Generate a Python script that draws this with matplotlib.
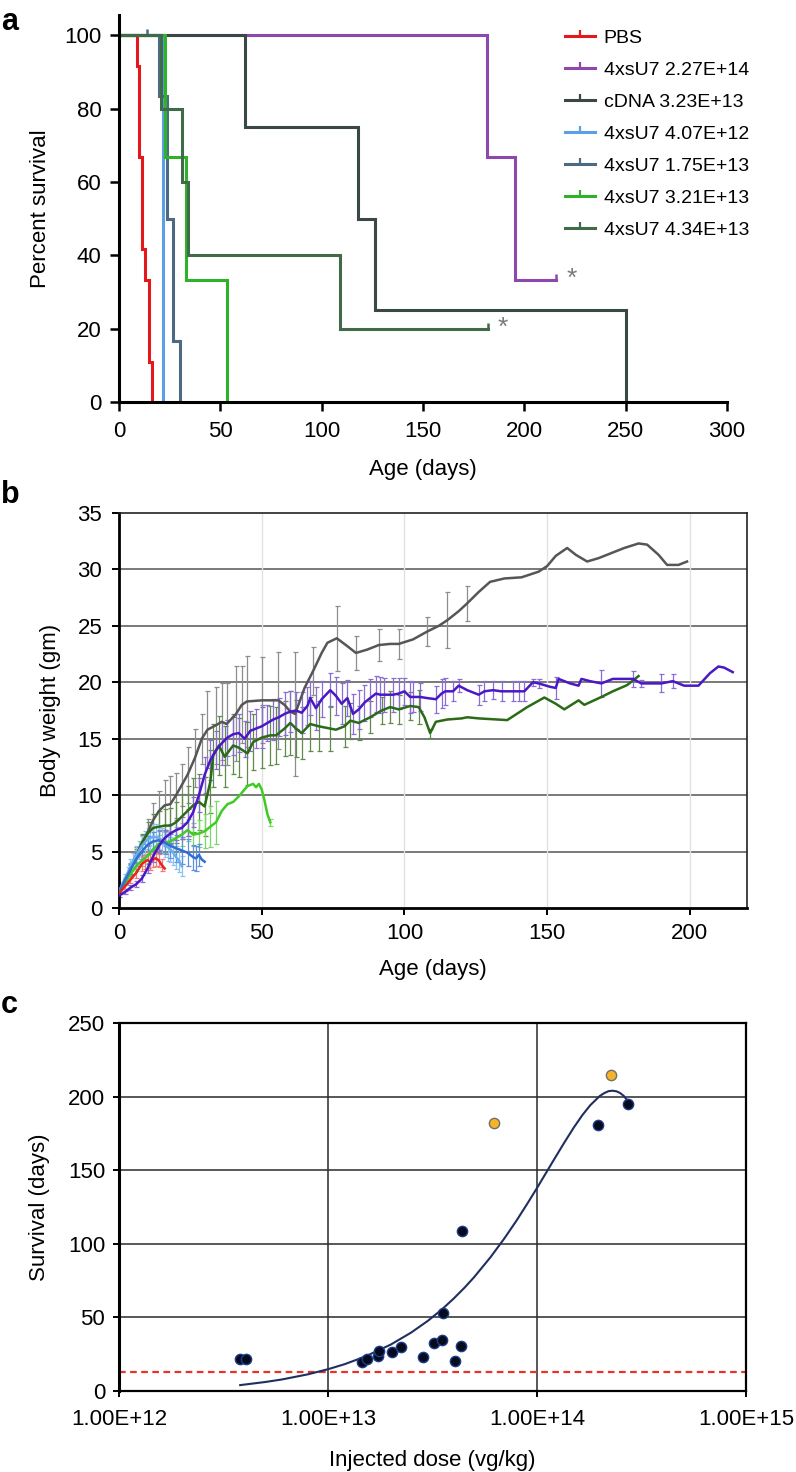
import numpy as np
import matplotlib
matplotlib.use("Agg")
import matplotlib.pyplot as plt
from matplotlib.path import Path
from matplotlib.lines import Line2D
from matplotlib.ticker import NullLocator

plt.rcParams['font.family'] = ['Liberation Sans', 'DejaVu Sans']

# ---------------- panel a : survival curves ----------------
km_labels = ['PBS', '4xsU7 2.27E+14', 'cDNA 3.23E+13', '4xsU7 4.07E+12',
             '4xsU7 1.75E+13', '4xsU7 3.21E+13', '4xsU7 4.34E+13']
km_colors = ['#e3171c', '#8e47ad', '#3a4747', '#5b9fe6', '#4d6a85', '#2eb22a', '#3f6b48']
km_times = [
    [0, 9, 9.7, 11.5, 12.6, 14.8, 16.1],
    [0, 181.5, 195.4, 215.4],
    [0, 62.2, 118, 126.3, 250.4],
    [0, 21.9],
    [0, 19.7, 23.5, 26.8, 30.1],
    [0, 22.7, 33, 53.1],
    [0, 20.7, 30.9, 33.8, 109, 182],
]
km_surv = [
    [100, 91.7, 66.7, 41.7, 33.3, 11, 0],
    [100, 66.7, 33.3, 33.3],
    [100, 75, 50, 25, 0],
    [100, 0],
    [100, 83.3, 50, 16.7, 0],
    [100, 66.7, 33.3, 0],
    [100, 80, 60, 40, 20, 20],
]
km_censor = [[], [(215.4, 33.3)], [], [], [(14, 100)], [], [(182, 20)]]
km_stars = [(223.5, 33.5), (189.5, 20.2)]

# ---------------- panel b : body weight (day, mean, sd) ----------------
bw_red = np.array([
    [0, 1.3, 0.1], [2, 1.9, 0.2], [4, 2.5, 0.3], [6, 3.1, 0.4], [8, 3.9, 0.6],
    [9, 4.1, 0.6], [10, 4.25, 0.7], [11, 4.1, 0.7], [12, 4.3, 0.7], [13, 4.4, 0.7],
    [14, 4.2, 0.6], [15, 3.8, 0.5], [16, 3.5, 0]])
bw_lightblue = np.array([
    [0, 1.5, 0.2], [1, 2.0, 0.3], [2, 2.6, 0.4], [3, 3.1, 0.5], [4, 3.7, 0.6],
    [5, 4.2, 0.7], [6, 4.7, 0.8], [7, 5.1, 0.8], [8, 5.5, 0.9], [9, 5.8, 1.0],
    [10, 6.1, 1.0], [11, 6.2, 1.0], [12, 6.3, 1.1], [13, 6.3, 1.1], [14, 6.2, 1.1],
    [15, 6.0, 1.1], [16, 5.6, 1.1], [17, 5.4, 1.2], [18, 5.2, 1.1], [19, 4.9, 1.1],
    [20, 4.5, 1.0], [21, 4.2, 1.0], [22, 3.7, 0.9]])
bw_blue = np.array([
    [0, 1.4, 0.2], [2, 2.4, 0.3], [4, 3.4, 0.5], [6, 4.3, 0.6], [8, 5.0, 0.7],
    [10, 5.6, 0.8], [12, 5.9, 0.8], [14, 6.0, 0.9], [16, 5.8, 1.0], [18, 5.5, 1.1],
    [20, 5.3, 1.2], [22, 5.1, 1.2], [24, 4.9, 1.2], [26, 4.5, 1.1], [27, 4.4, 1.1],
    [28, 4.7, 1.0], [29, 4.3, 0], [30, 4.1, 0]])
bw_gray = np.array([
    [0, 1.3, 0.1], [2, 2.3, 0.3], [4, 3.5, 0.5], [6, 4.7, 0.7], [8, 5.6, 0.9],
    [10, 6.7, 1.2], [12, 7.8, 1.5], [14, 8.6, 1.8], [16, 9.1, 2.2], [18, 9.2, 2.5],
    [20, 10.0, 2.0], [22, 10.9, 1.9], [24, 11.8, 2.5], [26.6, 13.3, 2.6], [29, 15.0, 2.2],
    [31, 15.8, 3.4], [34, 16.2, 3.4], [36, 16.5, 3.4], [37.7, 16.3, 3.6], [41, 17.2, 4.2],
    [43, 18.0, 3.4], [44.8, 18.3, 4.0], [50, 18.4, 3.8], [55.8, 18.4, 4.3], [58, 18.0, 0],
    [60, 17.4, 0], [61.7, 17.2, 5.5], [65, 19.5, 0], [68, 21.0, 2.1], [71, 22.6, 0],
    [73, 23.5, 0], [76.3, 23.9, 2.9], [80, 23.2, 0], [83, 22.6, 1.5], [87, 22.9, 0],
    [91, 23.3, 1.4], [95, 23.4, 0], [98, 23.4, 1.3], [103, 23.8, 0], [108, 24.5, 1.25],
    [112, 25.0, 0], [115, 25.5, 2.5], [119, 26.3, 0], [122, 27.0, 1.55], [126, 28.0, 0],
    [130, 28.9, 0], [135, 29.2, 0], [141, 29.3, 0], [147, 29.8, 0], [150, 30.3, 0],
    [153, 31.2, 0], [157, 31.9, 0], [160, 31.3, 0], [164, 30.7, 0], [168, 31.0, 0],
    [172, 31.4, 0], [177, 31.9, 0], [182, 32.3, 0], [185, 32.2, 0], [189, 31.3, 0],
    [192, 30.4, 0], [196, 30.4, 0], [199, 30.7, 0]])
bw_lightgreen = np.array([
    [0, 1.4, 0.1], [2, 2.2, 0.2], [4, 3.0, 0.3], [6, 3.7, 0.4], [8, 4.2, 0.5],
    [10, 4.6, 0.6], [12, 5.2, 0.7], [14, 5.7, 0.8], [16, 5.8, 0.9], [18, 5.9, 0.9],
    [20, 6.2, 1.0], [22, 6.5, 1.0], [24, 6.9, 1.0], [26, 6.5, 1.0], [28, 6.6, 1.2],
    [30, 6.8, 1.5], [32, 7.2, 1.8], [34, 7.6, 1.9], [36, 8.6, 0], [38, 9.2, 0],
    [40, 9.4, 0], [42, 9.9, 0], [44, 10.5, 0], [45, 10.8, 0], [47, 11.0, 0],
    [48, 10.7, 0], [49, 11.0, 0], [50, 10.5, 0], [51, 9.5, 0], [52, 8.3, 0],
    [53, 7.6, 0.3]])
bw_darkgreen = np.array([
    [0, 1.5, 0.1], [2, 2.3, 0.2], [4, 3.4, 0.4], [6, 4.6, 0.6], [8, 5.8, 0.8],
    [10, 6.6, 1.0], [12, 7.1, 1.2], [14, 7.2, 1.4], [16, 7.3, 1.5], [18, 7.3, 1.6],
    [20, 7.6, 1.8], [22, 8.1, 2.0], [24, 8.6, 2.2], [26, 9.1, 2.4], [28, 9.4, 2.5],
    [30, 9.0, 2.6], [32, 11.2, 2.8], [33, 13.5, 2.8], [35, 14.4, 2.6], [37, 13.4, 2.7],
    [40, 14.4, 2.5], [42, 14.2, 2.6], [45, 13.7, 2.8], [47, 14.7, 2.5], [50, 15.1, 2.7],
    [53, 15.3, 2.6], [55, 15.3, 2.5], [58, 15.9, 2.4], [60, 16.4, 2.8], [62, 15.9, 2.5],
    [64, 15.5, 2.3], [67, 16.3, 2.4], [70, 16.1, 2.2], [74, 15.9, 2.0], [76, 15.8, 0],
    [79, 16.1, 1.8], [81, 16.6, 1.6], [84, 16.4, 1.5], [88, 16.9, 1.4], [92, 17.5, 1.2],
    [95, 17.8, 1.4], [98, 17.6, 1.3], [102, 17.9, 1.2], [105, 17.8, 1.5], [107, 16.9, 0],
    [109, 15.5, 0.4], [111, 16.5, 0], [115, 16.7, 0], [120, 16.8, 0], [122, 16.9, 0],
    [126, 16.8, 0], [136, 16.65, 0], [143, 17.8, 0], [149, 18.65, 0], [153, 18.1, 0],
    [156, 17.6, 0], [161, 18.4, 0], [163, 18.0, 0], [169, 18.7, 0], [173, 19.2, 0],
    [178, 19.75, 0], [182, 20.55, 0]])
bw_purple = np.array([
    [0, 1.1, 0.1], [2, 1.4, 0.15], [4, 1.8, 0.2], [6, 2.1, 0.25], [8, 2.6, 0.3],
    [10, 3.5, 0.4], [12, 4.6, 0.5], [14, 5.5, 0.6], [16, 6.2, 0.7], [18, 6.6, 0.8],
    [20, 6.9, 0.9], [22, 7.1, 1.0], [24, 7.6, 1.2], [26, 8.5, 1.3], [28, 10.0, 1.5],
    [30, 11.8, 1.6], [32, 13.1, 1.8], [34, 14.0, 1.7], [36, 14.6, 1.9], [38, 15.1, 1.6],
    [40, 15.4, 1.8], [42, 15.5, 1.7], [44, 15.0, 1.6], [46, 15.7, 1.8], [48, 15.9, 1.7],
    [50, 16.1, 1.9], [52, 16.4, 1.6], [54, 16.7, 1.8], [56, 16.9, 1.7], [58, 17.2, 1.9],
    [60, 17.4, 1.8], [62, 17.5, 1.6], [64, 17.3, 1.8], [66, 17.9, 1.7], [67, 18.6, 1.5],
    [69, 17.7, 1.9], [71, 18.5, 1.6], [74, 19.3, 1.5], [76, 18.8, 1.7], [78, 18.1, 1.8],
    [80, 18.6, 1.6], [82, 17.2, 1.8], [84, 17.6, 1.7], [86, 18.2, 1.6], [88, 18.6, 1.7],
    [90, 19.0, 1.6], [91.5, 18.9, 1.6], [93, 18.9, 1.5], [96, 18.9, 1.5], [98, 19.0, 1.4],
    [100, 19.2, 1.2], [102, 18.7, 1.4], [103, 18.7, 1.3], [105.5, 18.7, 1.2], [108, 18.6, 0],
    [111, 18.5, 1.2], [113, 19.0, 1.3], [114.3, 19.2, 1.2], [117, 19.2, 0.9], [119, 19.7, 0.6],
    [122, 19.3, 0], [126, 18.9, 0.9], [128, 19.2, 0.9], [131, 19.3, 0.8], [134, 19.2, 0.9],
    [138, 19.2, 0.9], [140, 19.2, 0.9], [142, 19.2, 0.9], [145, 20.0, 0.3], [147, 19.9, 0.4],
    [151, 19.6, 0], [153, 19.5, 1.0], [154, 20.3, 0], [158, 19.9, 0], [161, 19.7, 0],
    [162, 20.3, 0], [165, 20.1, 0], [169, 19.9, 1.2], [173, 20.3, 0], [180, 20.3, 0.7],
    [183, 19.9, 0.3], [186, 19.9, 0], [190, 19.9, 0.8], [194, 20.1, 0.6], [198, 19.7, 0],
    [203, 19.7, 0], [207, 20.8, 0], [210, 21.4, 0], [212, 21.3, 0], [215, 20.9, 0]])

# series in drawing order: (data, line colour, error bar colour)
bw_series = [
    (bw_gray, '#565656', '#8d8d8d'),
    (bw_darkgreen, '#2b6a17', '#5f8c4b'),
    (bw_lightgreen, '#3fcc22', '#7ad866'),
    (bw_lightblue, '#69adf0', '#8fc2f3'),
    (bw_blue, '#2f6fd2', '#5d90e0'),
    (bw_red, '#e8231e', '#f07c78'),
    (bw_purple, '#4a18c4', '#8c6dd6'),
]

# ---------------- panel c : survival vs dose ----------------
dose_dead = [3.8e12, 4.06e12, 1.45e13, 1.53e13, 1.74e13, 1.76e13, 2.03e13, 2.23e13,
             2.84e13, 3.21e13, 3.53e13, 3.55e13, 4.06e13, 4.35e13, 4.40e13, 1.96e14, 2.74e14]
surv_dead = [22, 22, 19.5, 22, 23.8, 27.4, 26.3, 29.7, 22.9, 32.4, 34.6, 52.8, 20.6,
             30.6, 109, 181, 195]
dose_alive = [6.25e13, 2.27e14]
surv_alive = [182, 215]
# trend line, points
trend_dose = [3.8e12, 5e12, 6e12, 8e12, 1e13, 1.2e13, 1.5e13, 2e13, 2.5e13, 3e13, 3.5e13,
              4e13, 4.5e13, 5e13, 6e13, 7e13, 8e13, 9e13, 1e14, 1.2e14, 1.35e14, 1.5e14,
              1.65e14, 1.8e14, 2e14, 2.1e14, 2.2e14, 2.3e14, 2.4e14, 2.5e14, 2.6e14, 2.74e14]
trend_surv = [4, 6.1, 7.8, 11.3, 14.8, 18.2, 23.3, 31.6, 39.7, 47.6, 55.3,
              62.9, 70.2, 77.3, 91, 103.9, 116, 127.4, 137.9, 156.7, 168.7, 179,
              187.5, 194.2, 200.5, 202.4, 203.7, 204, 203.6, 202.4, 200.5, 196.4]
pbs_median = 13

W, H = 796, 1472
fig = plt.figure(figsize=(W / 100, H / 100), dpi=100)


def box(l, t, r, b):
    return [l / W, 1 - b / H, (r - l) / W, (b - t) / H]


FS = 16

# ---- a ----
ax = fig.add_axes(box(119, 15, 727, 402))
tick = Path([(0, 0), (0, 1)], [Path.MOVETO, Path.LINETO])
handles = []
for t, s, c, lab, cens in zip(km_times, km_surv, km_colors, km_labels, km_censor):
    ax.step(t, s, where='post', color=c, lw=2.2, solid_joinstyle='miter')
    for (ct, cs) in cens:
        ax.plot([ct], [cs], marker=tick, ms=9, mew=1.8, color=c, ls='none')
    handles.append(Line2D([], [], color=c, lw=2.2, marker=tick, ms=9, mew=1.6))
for (sx, sy) in km_stars:
    ax.text(sx, sy, '*', color='#7a7a7a', fontsize=19, ha='center', va='center')
ax.set_xlim(0, 300)
ax.set_ylim(0, 105.5)
ax.set_xticks(range(0, 301, 50))
ax.set_yticks(range(0, 101, 20))
for sp in ['top', 'right']:
    ax.spines[sp].set_visible(False)
for sp in ['left', 'bottom']:
    ax.spines[sp].set_linewidth(2.2)
ax.tick_params(direction='out', length=6.5, width=1.8, labelsize=FS)
ax.tick_params(axis='x', pad=7)
ax.tick_params(axis='y', pad=6)
ax.set_xlabel('Age (days)', fontsize=FS)
ax.set_ylabel('Percent survival', fontsize=FS)
ax.xaxis.set_label_coords(0.5, -0.148)
ax.yaxis.set_label_coords(-0.112, 0.5)
ax.legend(handles, km_labels, loc='upper left', bbox_to_anchor=(0.733, 0.963),
          frameon=False, fontsize=14, handlelength=1.55, handletextpad=0.45,
          labelspacing=0.74, borderpad=0, borderaxespad=0)

# ---- b ----
ax = fig.add_axes(box(119, 513, 747, 908))
for data, lc, ec in bw_series:
    m = data[:, 2] > 0
    ax.errorbar(data[m, 0], data[m, 1], yerr=data[m, 2], fmt='none', ecolor=ec,
                elinewidth=0.9, capsize=1.8, capthick=0.9, zorder=2)
    ax.plot(data[:, 0], data[:, 1], color=lc, lw=1.8, zorder=3)
ax.set_xlim(0, 220)
ax.set_ylim(0, 35)
ax.set_xticks(range(0, 201, 50))
ax.set_yticks(range(0, 36, 5))
for y in range(5, 35, 5):
    ax.axhline(y, color='#555555', lw=1.1, zorder=1)
for x in range(50, 201, 50):
    ax.axvline(x, color='#e2e2e2', lw=1.0, zorder=1)
for sp in ['left', 'bottom']:
    ax.spines[sp].set_linewidth(2.0)
for sp in ['top', 'right']:
    ax.spines[sp].set_linewidth(1.2)
    ax.spines[sp].set_color('#222222')
ax.tick_params(direction='out', length=5, width=1.4, labelsize=FS)
ax.tick_params(axis='x', pad=6)
ax.tick_params(axis='y', pad=7)
ax.set_xlabel('Age (days)', fontsize=FS)
ax.set_ylabel('Body weight (gm)', fontsize=FS)
ax.xaxis.set_label_coords(0.5, -0.13)
ax.yaxis.set_label_coords(-0.093, 0.5)

# ---- c ----
ax = fig.add_axes(box(119, 1023, 746, 1391))
ax.set_xscale('log')
ax.set_xlim(1e12, 1e15)
ax.set_ylim(0, 250)
for y in range(50, 250, 50):
    ax.axhline(y, color='#2a2a2a', lw=1.1, zorder=1)
for x in [1e13, 1e14]:
    ax.axvline(x, color='#2a2a2a', lw=1.1, zorder=1)
ax.axhline(pbs_median, color='#e8332a', lw=1.6, ls=(0, (3, 2)), zorder=2)
ax.plot(trend_dose, trend_surv, color='#1f2f5f', lw=1.5, zorder=3)
ax.scatter(dose_dead, surv_dead, s=55, color='#060b1c', edgecolors='#1d3c8c',
           linewidths=1.0, zorder=4)
ax.scatter(dose_alive, surv_alive, s=55, color='#f6b425', edgecolors='#6f6f6f',
           linewidths=1.0, zorder=4)
ax.set_xticks([1e12, 1e13, 1e14, 1e15])
ax.set_xticklabels(['1.00E+12', '1.00E+13', '1.00E+14', '1.00E+15'])
ax.xaxis.set_minor_locator(NullLocator())
ax.set_yticks(range(0, 251, 50))
ax.spines['left'].set_linewidth(2.2)
for sp in ['top', 'right', 'bottom']:
    ax.spines[sp].set_linewidth(1.6)
ax.tick_params(direction='out', length=4, width=1.4, labelsize=FS)
ax.tick_params(axis='x', pad=9)
ax.tick_params(axis='y', pad=6)
ax.set_xlabel('Injected dose (vg/kg)', fontsize=FS)
ax.set_ylabel('Survival (days)', fontsize=FS)
ax.xaxis.set_label_coords(0.5, -0.16)
ax.yaxis.set_label_coords(-0.11, 0.5)

for lab, yb in [('a', 30), ('b', 503), ('c', 1013)]:
    fig.text(1 / W, 1 - yb / H, lab, fontsize=22, fontweight='bold',
             ha='left', va='baseline')

fig.savefig('out.png', dpi=100)
